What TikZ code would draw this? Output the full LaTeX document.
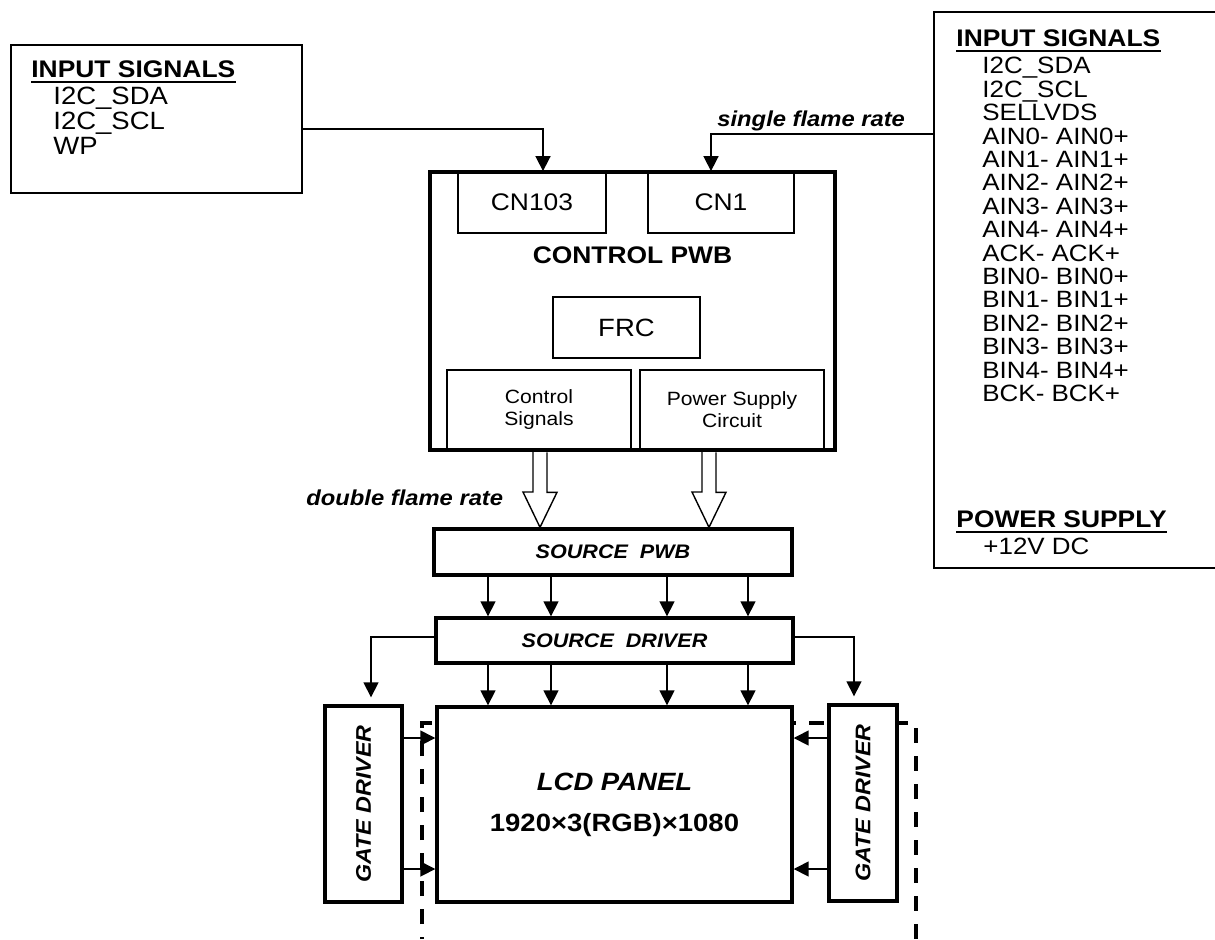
\documentclass[tikz,border=0pt]{standalone}
\usepackage{fontspec}
\setmainfont{Liberation Sans}[FakeStretch=1.1]
\usetikzlibrary{arrows.meta}

\tikzset{
  thin box/.style={draw, line width=0.9pt, inner sep=0pt},
  thick box/.style={draw, line width=1.7pt, fill=white, inner sep=0pt},
  txt/.style={inner sep=0pt, anchor=base west, font=\fontsize{11.8}{11.8}\selectfont},
  head/.style={txt, font=\fontsize{12}{12}\selectfont\bfseries},
  sig/.style={line width=0.8pt, -{Triangle[width=7.5pt,length=7.5pt]}},
  fat arrow/.style={line width=0.7pt, fill=white},
}

\begin{document}
\begin{tikzpicture}[x=0.5pt,y=-0.5pt]
\useasboundingbox (0,0) rectangle (1215,939);

% dashed frame behind the panel
\draw[line width=2pt, dash pattern=on 7.5pt off 6.5pt, dash phase=6.5pt]
  (422,939) -- (422,723) -- (916,723) -- (916,939);

% input boxes
\node[thin box, minimum width=145.5pt, minimum height=74pt] (lbox) at (156.5,119) {};
\node[head] (lhead) at (31,77) {INPUT SIGNALS};
\foreach \s [count=\i] in {I2C\_SDA, I2C\_SCL, WP}
  \node[txt, font=\fontsize{12.5}{12.5}\selectfont] (l\i) at (53,{104+25*(\i-1)}) {\s};

\node[thin box, minimum width=148pt, minimum height=278pt] (rbox) at (1082,290) {};
\node[head] (rhead) at (956,46) {INPUT SIGNALS};
\foreach \s [count=\i] in {I2C\_SDA, I2C\_SCL, SELLVDS, AIN0- AIN0+, AIN1- AIN1+,
    AIN2- AIN2+, AIN3- AIN3+, AIN4- AIN4+, ACK- ACK+, BIN0- BIN0+, BIN1- BIN1+,
    BIN2- BIN2+, BIN3- BIN3+, BIN4- BIN4+, BCK- BCK+}
  \node[txt] (r\i) at (982,{73.9+23.4*(\i-1)}) {\s};
\node[head] (phead) at (956,527) {POWER SUPPLY};
\node[txt] (p1) at (983,554) {+12V DC};
\foreach \h in {lhead,rhead,phead}
  \draw[line width=1.2pt] ([yshift=-2.4pt]\h.base west) -- ([yshift=-2.4pt]\h.base east);

% control board
\node[draw, line width=2pt, inner sep=0pt, minimum width=202.5pt, minimum height=139pt] (ctl) at (632.5,311) {};
\node[thin box, minimum width=74pt, minimum height=30.5pt, font=\fontsize{12}{12}\selectfont] (cn103) at (532,202.5) {CN103};
\node[thin box, minimum width=73pt, minimum height=30.5pt, font=\fontsize{12}{12}\selectfont] (cn1) at (721,202.5) {CN1};
\node[inner sep=0pt, font=\fontsize{12}{12}\selectfont\bfseries] (ctltxt) at (632.5,255) {CONTROL PWB};
\node[thin box, minimum width=73.5pt, minimum height=30.5pt, font=\fontsize{12.5}{12.5}\selectfont] (frc) at (626.5,327.5) {FRC};
\node[thin box, minimum width=92pt, minimum height=40pt, align=center, font=\fontsize{9.6}{11}\selectfont] (csig) at (539,410) {Control\\Signals};
\node[thin box, minimum width=92pt, minimum height=40pt, align=center, font=\fontsize{9.6}{11}\selectfont] (psup) at (732,410) {Power Supply\\Circuit};

\node[txt, font=\fontsize{10.8}{10.8}\selectfont\bfseries\itshape] (single) at (717,126) {single flame rate};
\node[txt, font=\fontsize{10.8}{10.8}\selectfont\bfseries\itshape] (double) at (306,505) {double flame rate};

% source side
\node[thick box, minimum width=179pt, minimum height=23pt, font=\fontsize{9.8}{9.8}\selectfont\bfseries\itshape] (spwb) at (613,552) {SOURCE\ \ PWB};
\node[thick box, minimum width=178.5pt, minimum height=22.5pt, font=\fontsize{9.8}{9.8}\selectfont\bfseries\itshape] (sdrv) at (614.5,640.5) {SOURCE\ \ DRIVER};

% panel and gate drivers
\node[thick box, minimum width=177.5pt, minimum height=97.5pt, align=center, font=\fontsize{12.5}{20.5}\selectfont\bfseries] (lcd) at (614.5,804.5) {{\itshape LCD PANEL}\\1920×3(RGB)×1080};
\node[thick box, minimum width=38.5pt, minimum height=98pt, font=\fontsize{10.6}{10.6}\selectfont\bfseries\itshape] (gl) at (363.5,804) {\rotatebox{90}{GATE DRIVER}};
\node[thick box, minimum width=34pt, minimum height=98pt, font=\fontsize{10.6}{10.6}\selectfont\bfseries\itshape] (gr) at (863,803) {\rotatebox{90}{GATE DRIVER}};

% connections
\draw[sig] (lbox.east |- 0,129) -| (cn103.north -| 543,0);
\draw[sig] (rbox.west |- 0,134) -| (cn1.north -| 711,0);
\foreach \x in {540,709}
  \draw[fat arrow] (ctl.south -| \x,0) ++(-7,0) -- ++(0,40) -- ++(-10,0)
    -- (spwb.north -| \x,0) -- ++(17,-35) -- ++(-10,0) -- ++(0,-40);
\foreach \x in {488,551,667,748} {
  \draw[sig] (spwb.south -| \x,0) -- (sdrv.north -| \x,0);
  \draw[sig] (sdrv.south -| \x,0) -- (lcd.north -| \x,0);
}
\draw[sig, shorten >=3.5pt] (sdrv.west |- 0,637) -| (gl.north -| 371,0);
\draw[sig, shorten >=3.5pt] (sdrv.east |- 0,637) -| (gr.north -| 854,0);
\foreach \y in {738,869} {
  \draw[sig] (gl.east |- 0,\y) -- (lcd.west |- 0,\y);
  \draw[sig] (gr.west |- 0,\y) -- (lcd.east |- 0,\y);
}
\end{tikzpicture}
\end{document}
